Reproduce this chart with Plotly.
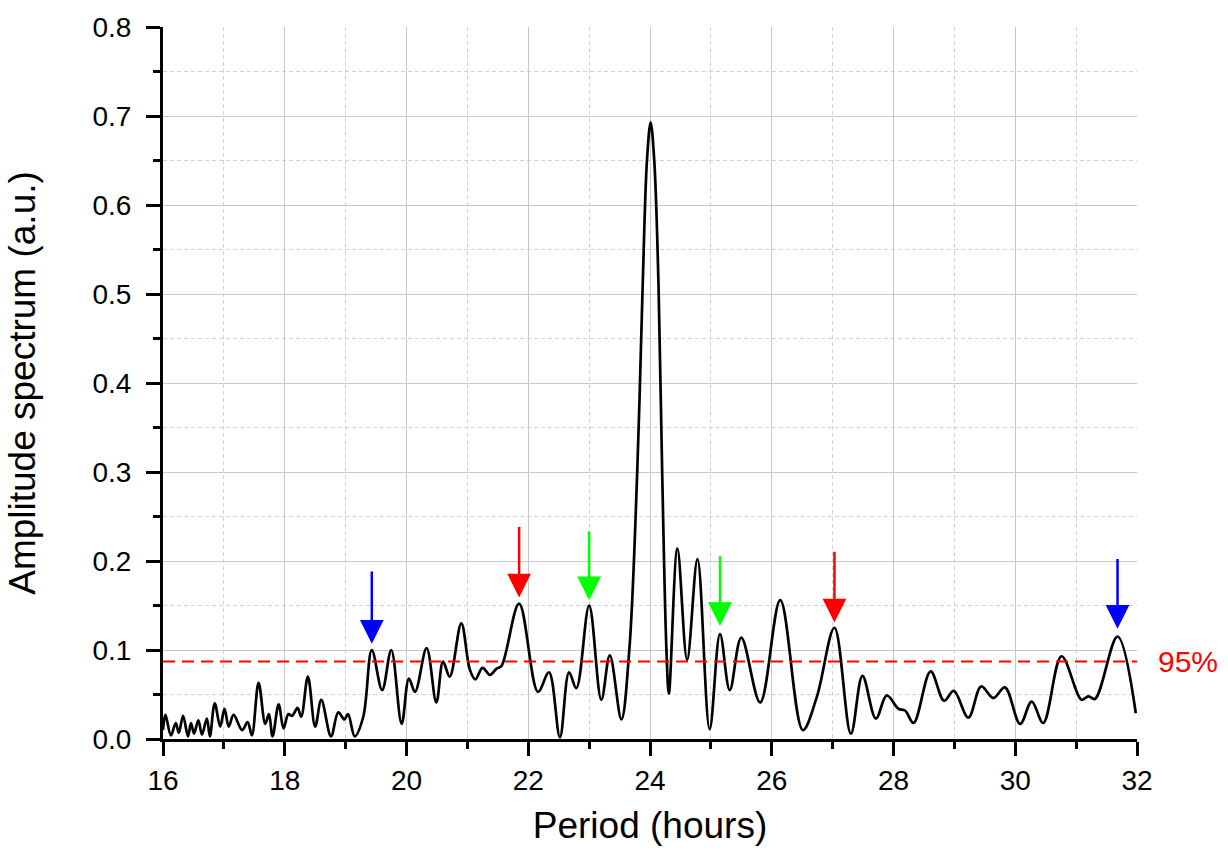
import plotly.graph_objects as go

period = [16.00, 16.04, 16.13, 16.21, 16.26, 16.33, 16.41, 16.46, 16.51, 16.58, 16.64, 16.72, 16.77,
          16.85, 16.94, 17.01, 17.08, 17.16, 17.30, 17.39, 17.46, 17.57, 17.68, 17.74, 17.80, 17.90,
          17.98, 18.06, 18.12, 18.21, 18.27, 18.38, 18.50, 18.60, 18.76, 18.88, 18.98, 19.04, 19.15,
          19.29, 19.43, 19.60, 19.75, 19.92, 20.04, 20.14, 20.33, 20.49, 20.60, 20.71, 20.90, 21.04,
          21.13, 21.25, 21.37, 21.48, 21.56, 21.85, 22.16, 22.34, 22.52, 22.67, 22.79, 23.00, 23.20,
          23.34, 23.53, 23.66, 23.79, 23.88, 23.95, 24.01, 24.07, 24.14, 24.20, 24.27, 24.31, 24.45,
          24.61, 24.78, 24.98, 25.15, 25.31, 25.50, 25.81, 26.14, 26.51, 26.74, 27.03, 27.30, 27.49,
          27.71, 27.89, 28.08, 28.19, 28.33, 28.61, 28.83, 28.99, 29.23, 29.44, 29.64, 29.83, 30.08,
          30.27, 30.46, 30.76, 31.09, 31.20, 31.31, 31.68, 31.98]
amplitude = [0.010, 0.027, 0.004, 0.018, 0.007, 0.026, 0.003, 0.018, 0.006, 0.021, 0.005, 0.023, 0.003,
             0.040, 0.014, 0.034, 0.014, 0.027, 0.010, 0.019, 0.004, 0.063, 0.017, 0.028, 0.003, 0.039,
             0.012, 0.028, 0.026, 0.035, 0.025, 0.070, 0.014, 0.044, 0.003, 0.030, 0.022, 0.028, 0.003,
             0.025, 0.100, 0.055, 0.100, 0.017, 0.068, 0.053, 0.102, 0.041, 0.087, 0.070, 0.130, 0.078,
             0.067, 0.080, 0.072, 0.079, 0.082, 0.152, 0.053, 0.075, 0.002, 0.075, 0.057, 0.150, 0.044,
             0.094, 0.022, 0.100, 0.300, 0.510, 0.650, 0.693, 0.650, 0.510, 0.300, 0.100, 0.051, 0.214,
             0.089, 0.202, 0.011, 0.118, 0.055, 0.114, 0.041, 0.156, 0.010, 0.047, 0.125, 0.006, 0.071,
             0.023, 0.049, 0.034, 0.032, 0.018, 0.076, 0.043, 0.054, 0.024, 0.059, 0.046, 0.058, 0.017,
             0.042, 0.018, 0.093, 0.044, 0.048, 0.045, 0.115, 0.029]

threshold_95 = 0.087
threshold_label = "95%"

arrow_x = [19.43, 21.85, 23.00, 25.15, 27.03, 31.68]
arrow_tip = [0.107, 0.159, 0.156, 0.127, 0.131, 0.124]
arrow_tail = [0.190, 0.240, 0.235, 0.207, 0.212, 0.204]
arrow_colors = ["#0000ff", "#ff0000", "#00ff00", "#00ff00", "#ff0000", "#0000ff"]

FONT = "Arial, 'Liberation Sans', sans-serif"

fig = go.Figure()
fig.add_trace(go.Scatter(x=period, y=amplitude, mode="lines",
                         line=dict(color="black", width=2.7, shape="spline", smoothing=1.0),
                         showlegend=False, hoverinfo="x+y"))

fig.add_shape(type="line", xref="x", yref="y", x0=16, x1=32, y0=threshold_95, y1=threshold_95,
              line=dict(color="#ff0000", width=2, dash="12px,7px"))

# hide the grid line along the top edge (the reference has none there)
fig.add_shape(type="line", xref="paper", yref="paper", x0=0.004, x1=1, y0=1, y1=1,
              line=dict(color="white", width=3), layer="between")

fig.add_annotation(xref="paper", yref="y", x=1.019, y=threshold_95, text=threshold_label,
                   showarrow=False, xanchor="left", yanchor="middle",
                   font=dict(family=FONT, size=30, color="#ff0000"))

for xa, tip, tail, c in zip(arrow_x, arrow_tip, arrow_tail, arrow_colors):
    fig.add_annotation(x=xa, y=tip, ax=xa, ay=tail, xref="x", yref="y", axref="x", ayref="y",
                       text="", showarrow=True, arrowhead=2, arrowsize=1.9, arrowwidth=2.5,
                       arrowcolor=c, standoff=0)

fig.update_layout(
    width=1228, height=857,
    margin=dict(l=163, r=91, t=22, b=118),
    paper_bgcolor="white", plot_bgcolor="white",
    font=dict(family=FONT, color="black"),
    xaxis=dict(range=[16, 32], dtick=2, tick0=16, showline=True, linewidth=3, linecolor="black",
               ticks="outside", ticklen=14, tickwidth=2.5, tickcolor="black",
               tickfont=dict(size=28), showgrid=True, gridcolor="#c8c8c8", gridwidth=1.2,
               zeroline=False,
               minor=dict(dtick=1, tick0=16, ticks="outside", ticklen=7, tickwidth=2.5, tickcolor="black",
                          showgrid=True, gridcolor="#d2d2d2", griddash="4px,3px", gridwidth=1),
               title=dict(text="Period (hours)", font=dict(size=37), standoff=18)),
    yaxis=dict(range=[0, 0.8], dtick=0.1, tick0=0, tickformat=".1f", showline=True, linewidth=3,
               linecolor="black", ticks="outside", ticklen=14, tickwidth=2.5, tickcolor="black",
               tickfont=dict(size=28), showgrid=True, gridcolor="#c8c8c8", gridwidth=1.2,
               zeroline=False, ticklabelstandoff=9,
               minor=dict(dtick=0.05, tick0=0, ticks="outside", ticklen=7, tickwidth=2.5, tickcolor="black",
                          showgrid=True, gridcolor="#d2d2d2", griddash="4px,3px", gridwidth=1),
               title=dict(text="Amplitude spectrum (a.u.)", font=dict(size=37), standoff=46)),
)

fig.write_html("out.html")
